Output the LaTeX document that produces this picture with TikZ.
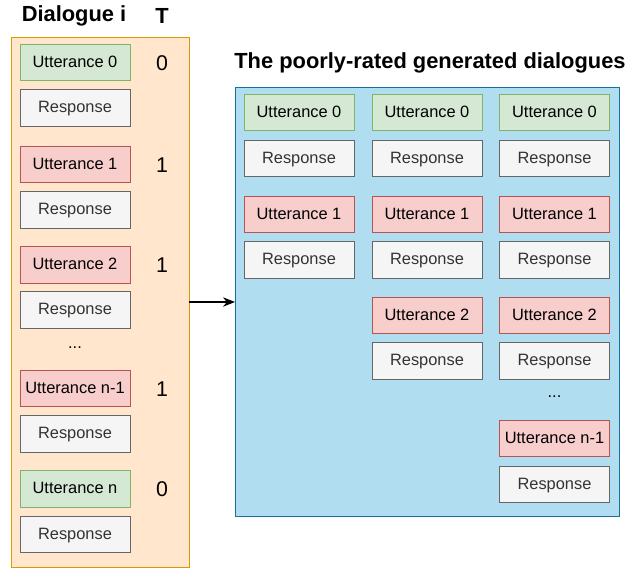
\documentclass[tikz,border=0pt]{standalone}
\usepackage{fontspec}
\setmainfont{Liberation Sans}
\usetikzlibrary{arrows.meta}
\definecolor{gfill}{HTML}{D5E8D4}\definecolor{gline}{HTML}{82B366}
\definecolor{rfill}{HTML}{F8CECC}\definecolor{rline}{HTML}{B85450}
\definecolor{wfill}{HTML}{F5F5F5}\definecolor{wline}{HTML}{666666}
\definecolor{ofill}{HTML}{FFE6CC}\definecolor{oline}{HTML}{D79B00}
\definecolor{bfill}{HTML}{B1DDF0}\definecolor{bline}{HTML}{10739E}
\definecolor{wtext}{HTML}{333333}
\tikzset{
  box/.style={draw, line width=0.75pt, minimum width=82.5pt, minimum height=27.4pt, inner sep=0pt, text height=0.9em, text depth=0.184em, font=\fontsize{12.3}{14}\selectfont},
  good/.style={box, fill=gfill, draw=gline},
  bad/.style={box, fill=rfill, draw=rline},
  resp/.style={box, fill=wfill, draw=wline, text=wtext},
  tval/.style={font=\fontsize{16}{18}\selectfont},
  ttl/.style={font=\fontsize{16.4}{18}\selectfont\bfseries},
  dots/.style={font=\fontsize{12.3}{14}\selectfont},
}
\begin{document}
\begin{tikzpicture}[x=0.75pt,y=-0.75pt]
\useasboundingbox (0,0) rectangle (626,569);
% panels
\draw[fill=ofill, draw=oline, line width=0.75pt] (11,37) rectangle (189,567);
\draw[fill=bfill, draw=bline, line width=0.75pt] (235,87) rectangle (619,516);
\node[inner sep=0pt, anchor=east] (lp) at (189,302) {};
\node[inner sep=0pt, anchor=west] (rp) at (235,302) {};
\draw[-{Stealth[length=9pt,width=7pt]}, line width=0.9pt] (lp) -- (rp);
% titles
\node[ttl] (h1) at (74,16) {Dialogue i};
\node[ttl] (h2) at (162,16) {T};
\node[ttl] (h3) at (430,63) {The poorly-rated generated dialogues};
% left column
\node[good] (u0) at (75,62.5) {Utterance 0};
\node[resp] (r0) at (75,108) {Response};
\node[bad]  (u1) at (75,164.5) {Utterance 1};
\node[resp] (r1) at (75,210) {Response};
\node[bad]  (u2) at (75,265) {Utterance 2};
\node[resp] (r2) at (75,310) {Response};
\node[dots] (ld) at (75,348) {...};
\node[bad]  (un1) at (75,388.5) {Utterance n-1};
\node[resp] (rn1) at (75,434) {Response};
\node[good] (un) at (75,489) {Utterance n};
\node[resp] (rn) at (75,534.5) {Response};
% T values
\node[tval] (t0) at (162,63) {0};
\node[tval] (t1) at (162,165) {1};
\node[tval] (t2) at (162,265.5) {1};
\node[tval] (t3) at (162,389) {1};
\node[tval] (t4) at (162,489.5) {0};
% right: column A
\node[good] (a0) at (299,112.5) {Utterance 0};
\node[resp] (ar0) at (299,158.5) {Response};
\node[bad]  (a1) at (299,214.5) {Utterance 1};
\node[resp] (ar1) at (299,260) {Response};
% column B
\node[good] (b0) at (427,112.5) {Utterance 0};
\node[resp] (br0) at (427,158.5) {Response};
\node[bad]  (b1) at (427,214.5) {Utterance 1};
\node[resp] (br1) at (427,260) {Response};
\node[bad]  (b2) at (427,315.5) {Utterance 2};
\node[resp] (br2) at (427,361) {Response};
% column C
\node[good] (c0) at (554.5,112.5) {Utterance 0};
\node[resp] (cr0) at (554.5,158.5) {Response};
\node[bad]  (c1) at (554.5,214.5) {Utterance 1};
\node[resp] (cr1) at (554.5,260) {Response};
\node[bad]  (c2) at (554.5,315.5) {Utterance 2};
\node[resp] (cr2) at (554.5,361) {Response};
\node[dots] (cd) at (554.5,397) {...};
\node[bad]  (cn1) at (554.5,438.5) {Utterance n-1};
\node[resp] (crn1) at (554.5,484.5) {Response};
\end{tikzpicture}
\end{document}
